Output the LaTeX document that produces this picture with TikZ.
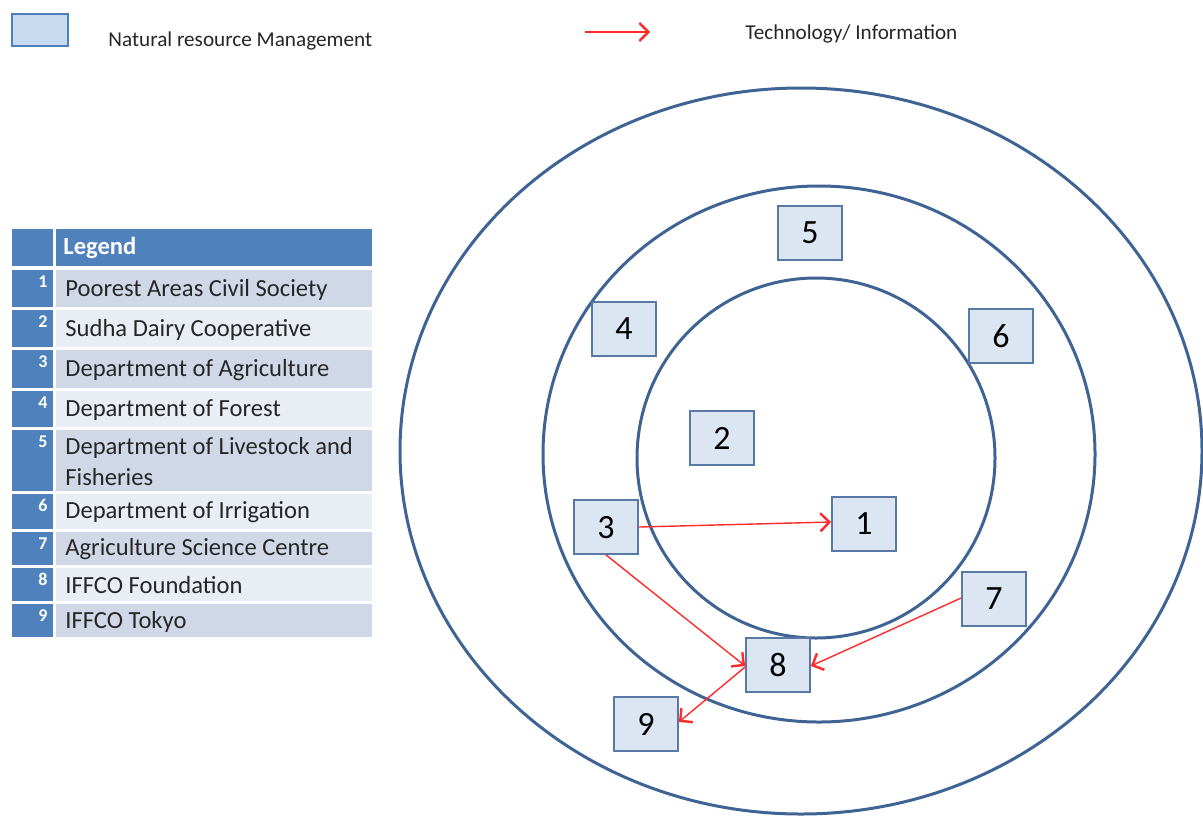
\documentclass[tikz,border=0pt]{standalone}
\usepackage{fontspec}
\setmainfont{Carlito}
\usetikzlibrary{arrows.meta, positioning}

\definecolor{ringblue}{HTML}{3F6494}
\definecolor{boxfill}{HTML}{DCE6F2}
\definecolor{boxline}{HTML}{5878A6}
\definecolor{keyfill}{HTML}{C6DAF0}
\definecolor{hdrblue}{HTML}{4F81BD}
\definecolor{rowdark}{HTML}{D0D8E8}
\definecolor{rowlight}{HTML}{E9EDF4}
\definecolor{flowred}{HTML}{FF2A2A}

\begin{document}
\begin{tikzpicture}[x=0.5pt, y=-0.5pt,
  actor/.style={draw=boxline, line width=0.9pt, fill=boxfill, minimum width=32pt,
    minimum height=27pt, inner sep=0pt, text depth=0pt,
    font=\fontsize{17}{18}\selectfont},
  ring/.style={draw=ringblue, line width=1.5pt},
  flow/.style={draw=flowred, line width=0.7pt,
    -{Straight Barb[length=4.5pt, width=9pt, line width=1.2pt]}},
  lgtext/.style={anchor=west, align=left, inner sep=0pt,
    font=\fontsize{12.3}{15.5}\selectfont, text=black!85},
  lgnum/.style={anchor=north east, inner sep=0pt, text=white,
    font=\fontsize{9}{10}\selectfont\bfseries},
  keylabel/.style={anchor=west, inner sep=0pt, text=black!85,
    font=\fontsize{10.6}{12}\selectfont},
]
  \useasboundingbox (0,0) rectangle (1203,815);
  \clip (0,0) rectangle (1203,815);

  % key at the top
  \node[draw=hdrblue, line width=0.9pt, fill=keyfill, minimum width=28pt,
    minimum height=16pt, inner sep=0pt] (keybox) at (40,30) {};
  \node[keylabel] (keytext) at (108,41) {Natural resource Management};
  \coordinate (keyA) at (585,32);
  \coordinate (keyB) at (650,32);
  \draw[flow] (keyA) -- (keyB);
  \node[keylabel] (keyflow) at (745,34) {Technology/ Information};

  % legend table
  \fill[hdrblue] (12,229) rectangle (53,266);
  \fill[hdrblue] (56,229) rectangle (372,266);
  \node[lgtext, text=white, font=\fontsize{12.3}{14}\selectfont\bfseries]
    (lghead) at (63,248) {Legend};
  \foreach \top/\bot/\num/\col/\txt in {
      270/307/1/rowdark/Poorest Areas Civil Society,
      310/347/2/rowlight/Sudha Dairy Cooperative,
      350/388/3/rowdark/Department of Agriculture,
      391/427/4/rowlight/Department of Forest,
      430/491/5/rowdark/Department of Livestock and\\Fisheries,
      494/529/6/rowlight/Department of Irrigation,
      532/565/7/rowdark/Agriculture Science Centre,
      568/601/8/rowlight/IFFCO Foundation,
      604/637/9/rowdark/IFFCO Tokyo} {
    \fill[hdrblue] (12,\top) rectangle (53,\bot);
    \fill[\col] (56,\top) rectangle (372,\bot);
    \node[lgnum] (num\num) at (48,\top+5) {\num};
    \node[lgtext] (txt\num) at (65,{(\top+\bot)/2+1}) {\txt};
  }

  % rings
  \draw[ring] (801,451) ellipse [x radius=401, y radius=363];
  \draw[ring] (819,454) ellipse [x radius=276, y radius=268];
  \draw[ring] (816,458) ellipse [x radius=179, y radius=180];

  % actors
  \node[actor] (n1) at (864,524) {1};
  \node[actor] (n2) at (722,438) {2};
  \node[actor] (n3) at (606,527) {3};
  \node[actor] (n4) at (624,329) {4};
  \node[actor] (n5) at (810,233) {5};
  \node[actor] (n6) at (1001,336) {6};
  \node[actor] (n7) at (994,599) {7};
  \node[actor] (n8) at (778,665) {8};
  \node[actor] (n9) at (646,724) {9};

  % technology / information flows
  \draw[flow] (n3.east) -- ([yshift=1pt]n1.west);
  \draw[flow] (n3.south) -- ([yshift=-0.5pt]n8.west);
  \draw[flow] ([yshift=0.5pt]n7.west) -- ([yshift=-0.5pt]n8.east);
  \draw[flow] ([yshift=-1pt]n8.west) -- ([yshift=1pt]n9.east);
\end{tikzpicture}
\end{document}
